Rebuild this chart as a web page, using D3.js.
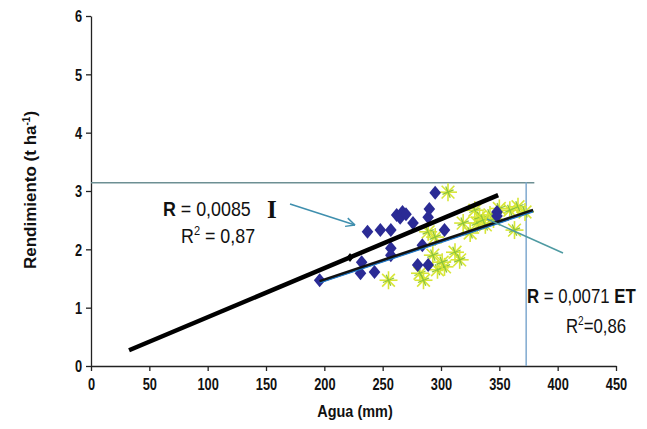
<!DOCTYPE html>
<html><head><meta charset="utf-8">
<script src="https://cdn.jsdelivr.net/npm/d3@7"></script>
<style>body{margin:0;background:#fff;}</style></head>
<body><svg id="c" width="647" height="429"></svg>
<script>
// ---- data ----
const xTicks = [0,50,100,150,200,250,300,350,400,450];
const yTicks = [0,1,2,3,4,5,6];
// Series I (blue diamonds): [agua mm, rendimiento t/ha]
const seriesI = [
 [196,1.47],[231,1.59],[232,1.78],[243,1.61],[237,2.30],[248,2.33],[257,2.33],
 [262,2.59],[267,2.64],[265,2.54],[270,2.60],[276,2.45],[289,2.55],[290,2.69],
 [295,2.97],[257,2.02],[257,1.90],[284,2.07],[280,1.73],[289,1.73],[303,2.33],
 [348,2.64],[348,2.57]
];
// Series ET (yellow-green asterisks)
const seriesET = [
 [255,1.47],[282,1.59],[285,1.47],[293,1.90],[297,1.65],[303,1.70],[301,1.78],
 [289,2.30],[295,2.21],[306,2.98],[312,1.95],[316,1.82],[319,2.45],[325,2.28],
 [329,2.67],[331,2.45],[333,2.55],[338,2.42],[342,2.59],[336,2.50],[345,2.52],
 [359,2.67],[366,2.73],[372,2.64],[363,2.33],[350,2.70]
];
// Fitted lines
const lineI = [[32.6,0.27],[349,2.93]];
const lineET = [[196,1.45],[379,2.67]];
const markerI = [222,1.86];
// Reference lines
const hRefY = 3.14, hRefX = [0,380];
const vRefX = 373, vRefY = [0,3.15];

const SANS = "'Liberation Sans',Arial,sans-serif";
const svg = d3.select("#c");
const x = d3.scaleLinear().domain([0,450]).range([91,616]);
const y = d3.scaleLinear().domain([0,6]).range([366,16]);

// axes
const xAxis = d3.axisBottom(x).tickValues(xTicks).tickFormat(d3.format("d")).tickSize(5).tickSizeOuter(0);
const yAxis = d3.axisLeft(y).tickValues(yTicks).tickFormat(d3.format("d")).tickSize(5).tickSizeOuter(0);
const gx = svg.append("g").attr("transform","translate(0,366)").call(xAxis);
const gy = svg.append("g").attr("transform","translate(91,0)").call(yAxis);
[gx,gy].forEach(g=>{
  g.select(".domain").attr("stroke","#222").attr("stroke-width",1.3);
  g.selectAll(".tick line").attr("stroke","#222").attr("stroke-width",1.3);
  g.selectAll(".tick text").style("font-family",SANS).style("font-size","16px")
    .style("font-weight","bold").attr("fill","#111");
});
gx.selectAll(".tick text").attr("y",0).attr("dy",0).attr("transform","translate(0,24) scale(0.8,1)");
gy.selectAll(".tick text").attr("x",0).attr("dy","0.36em").attr("transform","translate(-9,0) scale(0.8,1)");

// reference lines
svg.append("line").attr("x1",x(hRefX[0])).attr("x2",x(hRefX[1])).attr("y1",y(hRefY)).attr("y2",y(hRefY))
  .attr("stroke","#6d8f93").attr("stroke-width",1.5);
svg.append("line").attr("x1",x(vRefX)).attr("x2",x(vRefX)).attr("y1",y(vRefY[0])).attr("y2",y(vRefY[1]))
  .attr("stroke","#7fa9cf").attr("stroke-width",1.5);

// ET asterisks
const star = svg.append("g");
seriesET.forEach(d=>{
  const g = star.append("g").attr("transform",`translate(${x(d[0])},${y(d[1])})`);
  [0,45,90,135].forEach(a=>{
    const r=9, t=a*Math.PI/180;
    g.append("line").attr("x1",-r*Math.sin(t)).attr("y1",-r*Math.cos(t))
      .attr("x2",r*Math.sin(t)).attr("y2",r*Math.cos(t))
      .attr("stroke","#d8e636").attr("stroke-width",1.6);
  });
  [22,112].forEach(a=>{
    const r=6, t=a*Math.PI/180;
    g.append("line").attr("x1",-r*Math.sin(t)).attr("y1",-r*Math.cos(t))
      .attr("x2",r*Math.sin(t)).attr("y2",r*Math.cos(t))
      .attr("stroke","#8cc43c").attr("stroke-width",1.3);
  });
});

// I diamonds
const dia = "M0,-7L5.8,0L0,7L-5.8,0Z";
svg.append("g").selectAll("path").data(seriesI).join("path")
  .attr("d",dia)
  .attr("transform",d=>`translate(${x(d[0])},${y(d[1])})`)
  .attr("fill","#2b2b95");

// fit lines
const ln = d3.line().x(d=>x(d[0])).y(d=>y(d[1]));
svg.append("path").attr("d",ln(lineET)).attr("stroke","#111").attr("stroke-width",3.2).attr("fill","none");
svg.append("path").attr("d",ln(lineET)).attr("stroke","#1f78c8").attr("stroke-width",1.2).attr("fill","none")
  .attr("transform","translate(0,1.6)");
svg.append("path").attr("d",ln(lineI)).attr("stroke","#000").attr("stroke-width",4.5).attr("fill","none");
svg.append("path").attr("d","M0,-4.5L3.5,0L0,4.5L-3.5,0Z")
  .attr("transform",`translate(${x(markerI[0])},${y(markerI[1])})`).attr("fill","#000");

// arrows
function arrow(x1,y1,x2,y2,col){
  svg.append("line").attr("x1",x1).attr("y1",y1).attr("x2",x2).attr("y2",y2)
    .attr("stroke",col).attr("stroke-width",1.5);
  const a=Math.atan2(y2-y1,x2-x1), L=10;
  [0.45,-0.45].forEach(s=>{
    svg.append("line").attr("x1",x2).attr("y1",y2)
      .attr("x2",x2-L*Math.cos(a+s)).attr("y2",y2-L*Math.sin(a+s))
      .attr("stroke",col).attr("stroke-width",1.5);
  });
}
arrow(290,204,355,225,"#3f8fae");
svg.append("line").attr("x1",563).attr("y1",253).attr("x2",487).attr("y2",219)
  .attr("stroke","#4e9aa2").attr("stroke-width",1.5);

// narrow text helper
function ntext(px,py,size,sx){
  return svg.append("text").attr("transform",`translate(${px},${py}) scale(${sx},1)`)
    .style("font-family",SANS).style("font-size",size+"px").attr("fill","#111");
}
// annotations
const t1 = ntext(163,216,21,0.85);
t1.append("tspan").style("font-weight","bold").text("R");
t1.append("tspan").text(" = 0,0085");
svg.append("text").attr("x",267).attr("y",218).style("font-size","25px").style("font-weight","bold")
  .style("font-family","'Liberation Serif','Times New Roman',serif").attr("fill","#111").text("I");
const t2 = ntext(181,243,21,0.85);
t2.append("tspan").text("R");
t2.append("tspan").style("font-size","13px").attr("dy",-8).text("2");
t2.append("tspan").attr("dy",8).text(" = 0,87");

const t3 = ntext(527,303,20,0.84);
t3.append("tspan").style("font-weight","bold").text("R");
t3.append("tspan").text(" = 0,0071 ");
t3.append("tspan").style("font-weight","bold").text("ET");
const t4 = ntext(566,333,20,0.84);
t4.append("tspan").text("R");
t4.append("tspan").style("font-size","12px").attr("dy",-8).text("2");
t4.append("tspan").attr("dy",8).text("=0,86");

// axis titles
svg.append("text").attr("transform","translate(36,190) rotate(-90)").attr("text-anchor","middle")
  .style("font-family",SANS).style("font-size","17px").style("font-weight","bold").attr("fill","#111")
  .call(t=>{t.append("tspan").text("Rendimiento (t ha");
    t.append("tspan").style("font-size","10px").attr("dy",-6).text("-1");
    t.append("tspan").attr("dy",6).text(")");});
ntext(355,417,17,0.85).attr("text-anchor","middle").style("font-weight","bold").text("Agua (mm)");
</script></body></html>
